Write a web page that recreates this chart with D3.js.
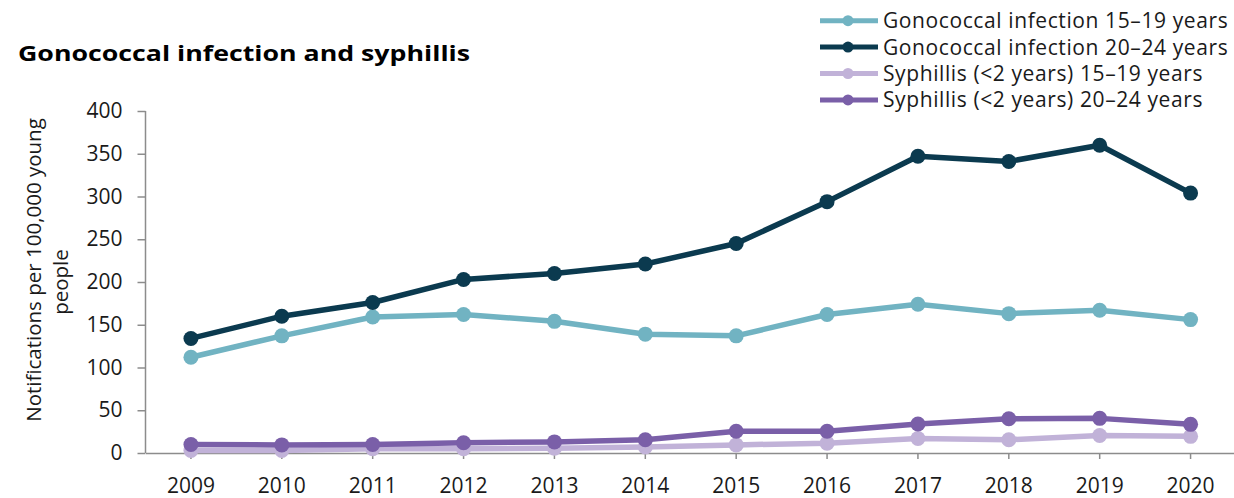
<!DOCTYPE html>
<html>
<head>
<meta charset="utf-8">
<script src="https://cdn.jsdelivr.net/npm/d3@7"></script>
<style>
  body { margin: 0; background: #fff; }
  text { font-family: "Open Sans", sans-serif; fill: #1a1a1a; }
  .axis path, .axis line { stroke: #8c8c8c; stroke-width: 1.5; }
</style>
</head>
<body>
<div id="container"></div>
<script>
var width = 1234;
var height = 498;

// data
var years = ["2009", "2010", "2011", "2012", "2013", "2014", "2015", "2016", "2017", "2018", "2019", "2020"];
var gono1519 = [112, 137, 159, 162, 154, 139, 137, 162, 174, 163, 167, 156];
var gono2024 = [134, 160, 176, 203, 210, 221, 245, 294, 347, 341, 360, 304];
var syph1519 = [3, 3, 5, 5, 5.5, 7, 9.5, 11.5, 17, 15.5, 20.5, 19.5];
var syph2024 = [10, 9.5, 10, 12, 13, 15.5, 25.5, 25.5, 34, 40, 40.5, 33.5];
var yTicks = [0, 50, 100, 150, 200, 250, 300, 350, 400];

var seriesNames = ["Gonococcal infection 15\u201319 years", "Gonococcal infection 20\u201324 years",
                   "Syphillis (<2 years) 15\u201319 years", "Syphillis (<2 years) 20\u201324 years"];
var seriesValues = [gono1519, gono2024, syph1519, syph2024];
var seriesColors = ["#71b3c2", "#0b3a4f", "#c1b2d8", "#7a5fa8"];

var x = d3.scaleBand().domain(years).range([145.5, 1236]);
var y = d3.scaleLinear().domain([0, 400]).range([453, 111]);

const svg = d3.select("#container").append("svg")
    .attr("width", width)
    .attr("height", height);

// title (reference glyphs are wider than Open Sans, so stretch to its width)
svg.append("text")
    .attr("x", 18)
    .attr("y", 61)
    .attr("font-size", 22)
    .attr("font-weight", "bold")
    .attr("textLength", 452)
    .attr("lengthAdjust", "spacingAndGlyphs")
    .style("fill", "#000")
    .text("Gonococcal infection and syphillis");

// y axis
var yAxis = svg.append("g")
    .attr("class", "axis")
    .attr("transform", "translate(145.5,0)")
    .call(d3.axisLeft(y).tickValues(yTicks).tickSize(8).tickPadding(15).tickSizeOuter(0));
yAxis.selectAll("text").attr("font-size", 21).style("fill", "#1a1a1a");
yAxis.select(".domain").attr("d", "M0," + y(400) + "V" + y(0));

// x axis
var xAxis = svg.append("g")
    .attr("class", "axis")
    .attr("transform", "translate(0," + y(0) + ")")
    .call(d3.axisBottom(x).tickSize(6).tickPadding(19).tickSizeOuter(0));
xAxis.selectAll("text").attr("font-size", 21).style("fill", "#1a1a1a");

// y axis title, two lines
svg.append("text")
    .attr("transform", "translate(41,270) rotate(-90)")
    .attr("text-anchor", "middle")
    .attr("font-size", 20.5)
    .text("Notifications per 100,000 young");
svg.append("text")
    .attr("transform", "translate(68,282) rotate(-90)")
    .attr("text-anchor", "middle")
    .attr("font-size", 20.5)
    .text("people");

var line = d3.line()
    .x(function(d, i) { return x(years[i]) + x.bandwidth() / 2; })
    .y(function(d) { return y(d); });

seriesValues.forEach(function(vals, k) {
    var g = svg.append("g");
    g.append("path")
        .datum(vals)
        .attr("fill", "none")
        .attr("stroke", seriesColors[k])
        .attr("stroke-width", 5.5)
        .attr("stroke-linejoin", "round")
        .attr("d", line);
    g.selectAll("circle").data(vals).enter().append("circle")
        .attr("cx", function(d, i) { return x(years[i]) + x.bandwidth() / 2; })
        .attr("cy", function(d) { return y(d); })
        .attr("r", 7.5)
        .attr("fill", seriesColors[k]);
});

// legend
var legend = svg.append("g");
seriesNames.forEach(function(name, k) {
    var ly = 20.7 + k * 26.4;
    legend.append("line")
        .attr("x1", 820).attr("x2", 878)
        .attr("y1", ly).attr("y2", ly)
        .attr("stroke", seriesColors[k])
        .attr("stroke-width", 5);
    legend.append("circle")
        .attr("cx", 848).attr("cy", ly).attr("r", 5.5)
        .attr("fill", seriesColors[k]);
    legend.append("text")
        .attr("x", 883)
        .attr("y", ly)
        .attr("dy", "0.36em")
        .attr("font-size", 21)
        .attr("letter-spacing", 0.6)
        .text(name);
});
</script>
</body>
</html>
